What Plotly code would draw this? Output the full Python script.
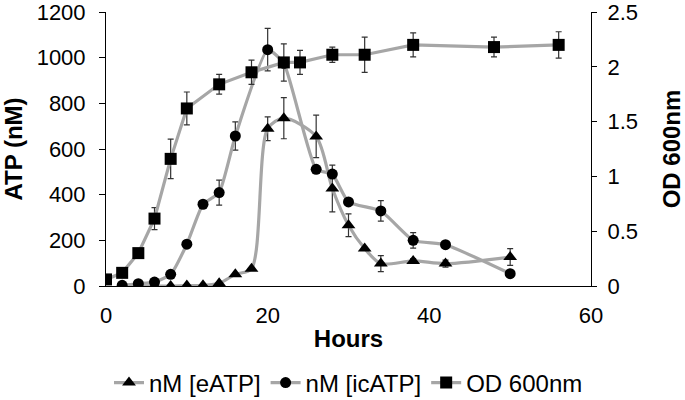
import plotly.graph_objects as go

# eATP (nM)
e_hours = [2, 4, 6, 8, 10, 12, 14, 16, 18, 20, 22, 26, 28, 30, 32, 34, 38, 42, 50]
e_atp = [0, 0, 0, 0, 2, 3, 12, 51, 76, 689, 735, 655, 427, 266, 164, 98, 110, 98, 127]
e_err = [0, 0, 0, 0, 0, 0, 0, 0, 0, 52, 90, 93, 102, 50, 0, 35, 10, 15, 37]

# icATP (nM)
ic_hours = [2, 4, 6, 8, 10, 12, 14, 16, 20, 22, 26, 28, 30, 34, 38, 42, 50]
ic_atp = [3, 10, 17, 51, 183, 358, 409, 657, 1035, 975, 511, 490, 368, 329, 200, 181, 54]
ic_err = [0, 0, 0, 0, 0, 0, 55, 62, 93, 0, 0, 10, 0, 45, 34, 0, 0]

# OD 600nm
od_hours = [0, 2, 4, 6, 8, 10, 14, 18, 22, 24, 28, 32, 38, 48, 56]
od_vals = [0.06, 0.12, 0.30, 0.615, 1.16, 1.62, 1.84, 1.95, 2.04, 2.04, 2.11, 2.11, 2.20, 2.18, 2.20]
od_err = [0, 0.03, 0, 0.10, 0.18, 0.15, 0.09, 0.11, 0.17, 0.11, 0.07, 0.16, 0.11, 0.09, 0.12]

LINE = "#a6a6a6"
FONT = "Liberation Sans, Arial, sans-serif"

def eb(arr):
    return dict(type="data", array=arr, visible=True, color="#333333", thickness=1.2, width=3)

fig = go.Figure()
fig.add_trace(go.Scatter(
    x=e_hours, y=e_atp, name="nM [eATP]", mode="lines+markers",
    line=dict(color=LINE, width=3.2, shape="spline", smoothing=0.8),
    marker=dict(symbol="triangle-up", size=12, color="black"),
    error_y=eb(e_err), yaxis="y"))
fig.add_trace(go.Scatter(
    x=ic_hours, y=ic_atp, name="nM [icATP]", mode="lines+markers",
    line=dict(color=LINE, width=3.2, shape="spline", smoothing=0.5),
    marker=dict(symbol="circle", size=11, color="black"),
    error_y=eb(ic_err), yaxis="y"))
fig.add_trace(go.Scatter(
    x=od_hours, y=od_vals, name="OD 600nm", mode="lines+markers",
    line=dict(color=LINE, width=3.2),
    marker=dict(symbol="square", size=12, color="black"),
    error_y=eb(od_err), yaxis="y2"))

fig.update_layout(
    width=685, height=400,
    margin=dict(l=106, r=94, t=12, b=114, autoexpand=False),
    paper_bgcolor="white", plot_bgcolor="white",
    font=dict(family=FONT, size=22, color="black"),
    showlegend=True,
    legend=dict(orientation="h", x=0.5, xanchor="center", y=-0.354, yanchor="middle",
                font=dict(size=24), itemwidth=30, tracegroupgap=0),
    xaxis=dict(range=[0, 60], dtick=20, showgrid=False, zeroline=False,
               showline=True, linecolor="black", linewidth=1, ticks="",
               ticklabelstandoff=10, automargin=False,
               title=dict(text="<b>Hours</b>", font=dict(size=24), standoff=2)),
    yaxis=dict(range=[0, 1200], dtick=200, showgrid=False, zeroline=False,
               showline=True, linecolor="black", linewidth=1, ticks="outside",
               ticklen=6, tickcolor="black", ticklabelstandoff=9, automargin=False,
               ticklabeloverflow="allow",
               title=dict(text="<b>ATP (nM)</b>", font=dict(size=24), standoff=7)),
    yaxis2=dict(range=[0, 2.5], dtick=0.5, overlaying="y", side="right",
                showgrid=False, zeroline=False, showline=True, linecolor="black",
                linewidth=1, ticks="outside", ticklen=5, tickcolor="black",
                ticklabelstandoff=6, automargin=False, ticklabeloverflow="allow",
                title=dict(text="<b>OD 600nm</b>", font=dict(size=24), standoff=26)),
)

fig.write_html("out.html", config={"displayModeBar": False},
               post_script="document.body.style.margin='0';")
